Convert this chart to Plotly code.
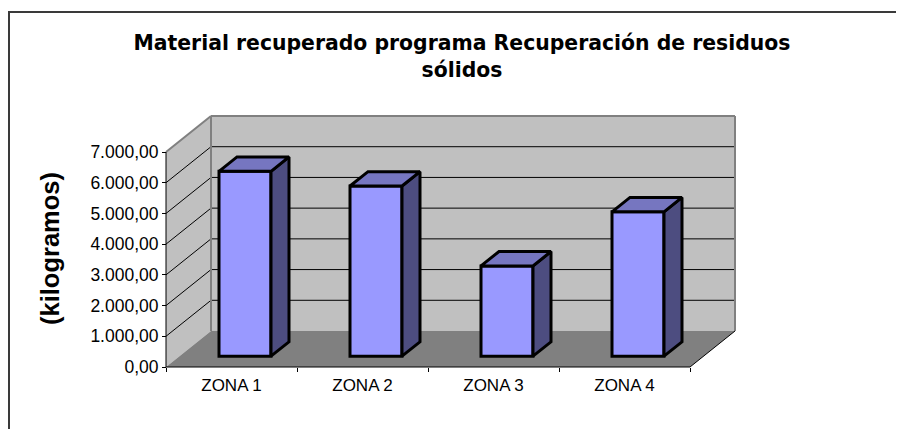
import plotly.graph_objects as go

# ---------------- data ----------------
categories = ["ZONA 1", "ZONA 2", "ZONA 3", "ZONA 4"]
values = [6020, 5540, 2940, 4700]
y_tickvals = [0, 1000, 2000, 3000, 4000, 5000, 6000, 7000]
y_ticktext = ["0,00", "1.000,00", "2.000,00", "3.000,00", "4.000,00",
              "5.000,00", "6.000,00", "7.000,00"]
title_text = "<b>Material recuperado programa Recuperación de residuos<br>sólidos</b>"
y_title = "(kilogramos)"

# ---------------- geometry (pixel layout) ----------------
PAGE = 8                        # default body margin of the html page
VIEW_W, VIEW_H = 904, 429
FIG_W, FIG_H = VIEW_W - PAGE, VIEW_H - PAGE


def fx(p):  # page x pixel -> figure pixel
    return p - PAGE


def fy(p):
    return p - PAGE


X0PX, Y0PX = fx(166), fy(367)   # front-plane origin in pixels
PX_PER_CAT = 131.0
PX_PER_UNIT = 215.0 / 7000.0
L, T, RPX, BPX = fx(156), fy(105), fx(744), fy(372)
W, H = RPX - L, BPX - T
VMAX = 7000
NC = len(categories)

DX = 45.0 / PX_PER_CAT          # depth offset in category units
DY = 36.0 / PX_PER_UNIT         # depth offset in value units
D0, D1 = 0.30, 0.70             # bar depth span (fraction)
BW = 52.0 / PX_PER_CAT          # bar width

xr = [(L - X0PX) / PX_PER_CAT, (RPX - X0PX) / PX_PER_CAT]
yr = [(Y0PX - BPX) / PX_PER_UNIT, (Y0PX - T) / PX_PER_UNIT]

WALL = "#C0C0C0"
FLOOR = "#808080"
EDGE = "#808080"
FRONT = "#9999FF"
TOP = "#7676C0"
SIDE = "#4D4D80"
FONT = "Liberation Sans, Arial, sans-serif"


def path(pts):
    return "M " + " L ".join(f"{x},{y}" for x, y in pts) + " Z"


shapes = []
# walls and floor
shapes.append(dict(type="path", xref="x", yref="y", layer="below",
                   path=path([(0, 0), (0, VMAX), (DX, VMAX + DY), (DX, DY)]),
                   fillcolor=WALL, line=dict(width=0)))
shapes.append(dict(type="path", xref="x", yref="y", layer="below",
                   path=path([(DX, DY), (DX, VMAX + DY), (NC + DX, VMAX + DY), (NC + DX, DY)]),
                   fillcolor=WALL, line=dict(width=0)))
shapes.append(dict(type="path", xref="x", yref="y", layer="below",
                   path=path([(0, 0), (NC, 0), (NC + DX, DY), (DX, DY)]),
                   fillcolor=FLOOR, line=dict(width=0)))
# gridlines
for v in y_tickvals[1:-1]:
    shapes.append(dict(type="line", xref="x", yref="y", layer="below",
                       x0=0, y0=v, x1=DX, y1=v + DY, line=dict(color="black", width=1)))
    shapes.append(dict(type="line", xref="x", yref="y", layer="below",
                       x0=DX, y0=v + DY, x1=NC + DX, y1=v + DY, line=dict(color="black", width=1)))
# wall edges
for (a, b) in [((0, VMAX), (DX, VMAX + DY)), ((DX, VMAX + DY), (NC + DX, VMAX + DY)),
               ((DX, DY), (DX, VMAX + DY)), ((NC + DX, DY), (NC + DX, VMAX + DY))]:
    shapes.append(dict(type="line", xref="x", yref="y", layer="below",
                       x0=a[0], y0=a[1], x1=b[0], y1=b[1], line=dict(color=EDGE, width=2)))
# axis lines (front plane)
for (a, b) in [((0, 0), (0, VMAX)), ((0, 0), (NC, 0)), ((NC, 0), (NC + DX, DY))]:
    shapes.append(dict(type="line", xref="x", yref="y", layer="below",
                       x0=a[0], y0=a[1], x1=b[0], y1=b[1], line=dict(color="black", width=1)))
# outer chart border (left & top visible; continues beyond the crop)
shapes.append(dict(type="rect", xref="paper", yref="paper",
                   x0=(fx(9) - L) / W, x1=(FIG_W + 10 - L) / W,
                   y0=(BPX - FIG_H - 10) / H, y1=(BPX - fy(12)) / H,
                   line=dict(color="#3a3a3a", width=2), fillcolor="rgba(0,0,0,0)"))

fig = go.Figure()

centers = [i + 0.5 + D0 * DX for i in range(NC)]
fig.add_trace(go.Bar(
    x=centers, y=values, base=D0 * DY, width=BW,
    marker=dict(color=FRONT, line=dict(color="black", width=3)),
    hoverinfo="skip", showlegend=False))

ddx, ddy = (D1 - D0) * DX, (D1 - D0) * DY
top_x, top_y, side_x, side_y = [], [], [], []
for c, v in zip(centers, values):
    xl, xrr = c - BW / 2, c + BW / 2
    yb, yt = D0 * DY, D0 * DY + v
    top_x += [xl, xrr, xrr + ddx, xl + ddx, xl, None]
    top_y += [yt, yt, yt + ddy, yt + ddy, yt, None]
    side_x += [xrr, xrr + ddx, xrr + ddx, xrr, xrr, None]
    side_y += [yb, yb + ddy, yt + ddy, yt, yb, None]

fig.add_trace(go.Scatter(x=side_x, y=side_y, mode="lines", fill="toself",
                         fillcolor=SIDE, line=dict(color="black", width=3),
                         hoverinfo="skip", showlegend=False))
fig.add_trace(go.Scatter(x=top_x, y=top_y, mode="lines", fill="toself",
                         fillcolor=TOP, line=dict(color="black", width=3),
                         hoverinfo="skip", showlegend=False))

fig.update_layout(
    width=FIG_W, height=FIG_H, autosize=False,
    margin=dict(l=L, r=FIG_W - RPX, t=T, b=FIG_H - BPX, pad=0),
    paper_bgcolor="white", plot_bgcolor="white",
    showlegend=False, hovermode=False,
    shapes=shapes,
    title=dict(text=title_text, x=fx(462) / FIG_W, xanchor="center",
               y=1 - fy(50) / FIG_H, yanchor="top", xref="container", yref="container",
               font=dict(family="DejaVu Sans, Verdana, sans-serif", size=20.4, color="black"),
               ),
    annotations=[dict(text=f"<b>{y_title}</b>", textangle=-90, xref="paper", yref="paper",
                      x=(fx(50) - L) / W, y=(BPX - fy(249)) / H, xanchor="center", yanchor="middle",
                      showarrow=False, font=dict(family=FONT, size=25.5, color="black"))],
    xaxis=dict(range=xr, showgrid=False, zeroline=False, showline=False,
               tickmode="array", tickvals=[i + 0.5 for i in range(NC)], ticktext=categories,
               ticks="", ticklabelstandoff=6,
               tickfont=dict(family=FONT, size=17, color="black"),
               minor=dict(tickmode="array", tickvals=list(range(NC + 1)), ticks="outside",
                          ticklen=4, tickcolor="black", tickwidth=1),
               anchor="free", position=(BPX - Y0PX) / H, fixedrange=True),
    yaxis=dict(range=yr, showgrid=False, zeroline=False, showline=False,
               tickmode="array", tickvals=y_tickvals, ticktext=y_ticktext,
               ticks="outside", ticklen=4, tickcolor="black", tickwidth=1,
               tickfont=dict(family=FONT, size=17.5, color="black"),
               anchor="free", position=(X0PX - L) / W, fixedrange=True),
)

fig.write_html("out.html", config={"displayModeBar": False})
